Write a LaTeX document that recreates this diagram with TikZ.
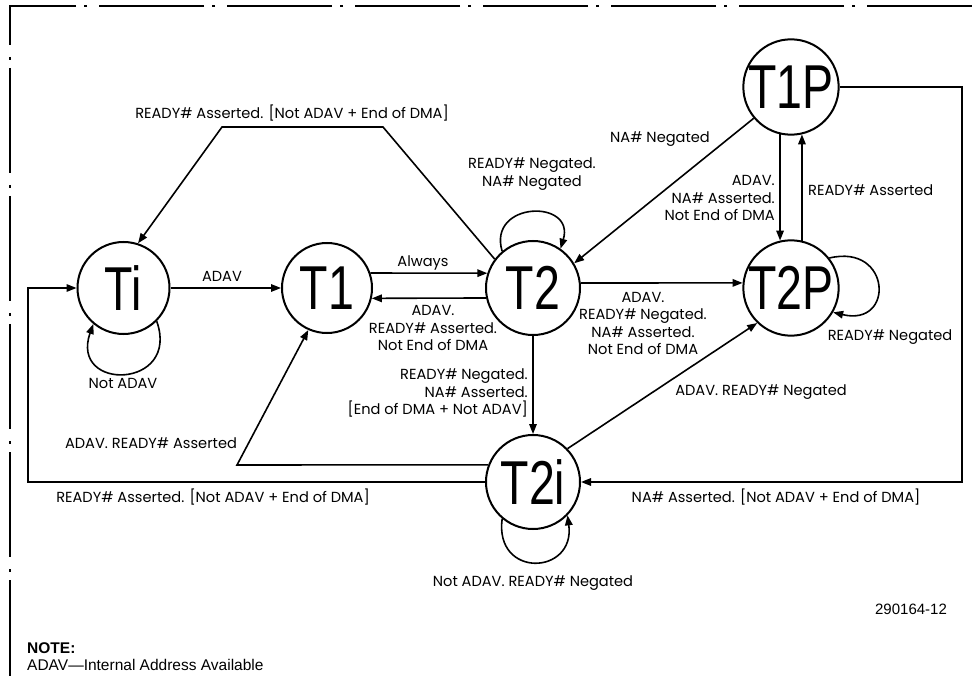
\documentclass[tikz,border=0pt]{standalone}
\usepackage{fontspec}
\usepackage{graphicx}
\setmainfont{Liberation Sans}
\newfontfamily\lblfont{Poppins}
\usetikzlibrary{arrows.meta}
\begin{document}
\begin{tikzpicture}[x=1pt,y=-1pt,
  st/.style={circle,draw,line width=2pt,inner sep=0pt,minimum size=#1,
    font=\fontsize{62}{62}\selectfont},
  arr/.style={line width=1.6pt,-{Triangle[length=10pt,width=7.5pt]}},
  lbl/.style={font=\lblfont\fontsize{14.6}{17.6}\selectfont,inner sep=0pt},
  frame/.style={line width=1.2pt}
]
\useasboundingbox (0,0) rectangle (972,676);
% frame
\draw[frame,dash pattern=on 105pt off 12pt on 3pt off 8pt] (972,6) -- (10,6) -- (10,676);

% states
\node[st=92pt]  (Ti)  at (123.5,288) {\scalebox{0.75}[1]{Ti}};
\node[st=90pt]  (T1)  at (327,288)   {\scalebox{0.75}[1]{T1}};
\node[st=94pt]  (T2)  at (533,288)   {\scalebox{0.75}[1]{T2}};
\node[st=92pt]  (T2P) at (791,288)   {\scalebox{0.75}[1]{T2P}};
\node[st=92pt]  (T1P) at (791,87)    {\scalebox{0.75}[1]{T1P}};
\node[st=94pt]  (T2i) at (533,482)   {\scalebox{0.75}[1]{T2i}};

% helper coordinates
\coordinate (R1) at (962,87);
\coordinate (R2) at (962,482);
\coordinate (B1) at (237,465);
\coordinate (B2) at (28,482);
\coordinate (B3) at (28,288);
\coordinate (A1) at (383,127);
\coordinate (A2) at (222,127);

% connectors
\draw[arr] (Ti.east) -- (T1.west);
\draw[arr] (T1.19) -- (T2.162);
\draw[arr] (T2.192) -- (T1.-13);
\draw[arr] (T2.6) -- (T2P.174);
\draw[arr] (T1P.257) -- (T2P.103);
\draw[arr] (T2P.77) -- (T1P.283);
\draw[arr] (T1P.220) -- (T2.31);
\draw[arr] (T2.south) -- (T2i.north);
\draw[arr] (T2i.44) -- (T2P.226);
\draw[arr] (T1P.east) -- (R1) -- (R2) -- (T2i.east);
\draw[arr] (T2i.159) -- (B1) -- (T1.246);
\draw[arr] (T2i.west) -- (B2) -- (B3) -- (Ti.west);
\draw[arr] (T2.143) -- (A1) -- (A2) -- (Ti.72);

% self loops
\draw[arr] (Ti.-45) .. controls +(24,68) and +(-24,68) .. (Ti.-130);
\draw[arr] (T2.130) .. controls +(-15,-50) and +(15,-50) .. (T2.55);
\draw[arr] (T2P.38) .. controls +(62,-15) and +(62,15) .. (T2P.-30);
\draw[arr] (T2i.230) .. controls +(-8,60) and +(8,60) .. (T2i.-44);

% labels
\node[lbl] (lTop) at (292,113) {READY\# Asserted. [Not ADAV + End of DMA]};
\node[lbl] (lADAV) at (222,276) {ADAV};
\node[lbl] (lNotADAV) at (123,383) {Not ADAV};
\node[lbl] (lAlways) at (423,263) {Always};
\node[lbl,align=center] (lT2T1) at (433,328) {ADAV.\\READY\# Asserted.\\Not End of DMA};
\node[lbl,align=center] (lT2loop) at (532,174) {READY\# Negated.\\NA\# Negated};
\node[lbl] (lNAneg) at (660,139) {NA\# Negated};
\node[lbl,align=right,anchor=east] (lT1PT2P) at (775,198) {ADAV.\\NA\# Asserted.\\Not End of DMA};
\node[lbl,anchor=west] (lT2PT1P) at (808,190) {READY\# Asserted};
\node[lbl,align=center] (lT2T2P) at (643,323.5) {ADAV.\\READY\# Negated.\\NA\# Asserted.\\Not End of DMA};
\node[lbl] (lT2Ploop) at (890,337) {READY\# Negated};
\node[lbl,align=right,anchor=east] (lT2T2i) at (528,393) {READY\# Negated.\\NA\# Asserted.\\{[}End of DMA + Not ADAV{]}};
\node[lbl] (lT2iT2P) at (761,392) {ADAV. READY\# Negated};
\node[lbl] (lT1PT2i) at (776,497) {NA\# Asserted. [Not ADAV + End of DMA]};
\node[lbl] (lT2iT1) at (151,443) {ADAV. READY\# Asserted};
\node[lbl] (lT2iTi) at (213,497) {READY\# Asserted. [Not ADAV + End of DMA]};
\node[lbl] (lT2iloop) at (533,583) {Not ADAV. READY\# Negated};
\node[font=\fontsize{15}{17}\selectfont,inner sep=0pt] (fig) at (911,609) {290164-12};
\node[font=\fontsize{15.5}{17}\selectfont\bfseries,inner sep=0pt,anchor=west] (note) at (27,648) {NOTE:};
\node[font=\fontsize{15.5}{17}\selectfont,inner sep=0pt,anchor=west] (noteb) at (27,665) {ADAV---Internal Address Available};
\end{tikzpicture}
\end{document}
